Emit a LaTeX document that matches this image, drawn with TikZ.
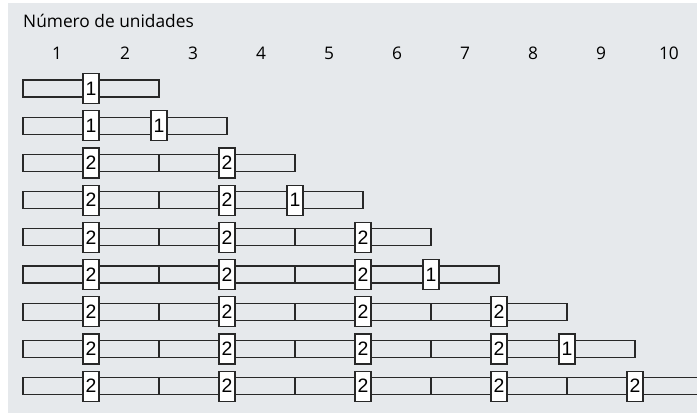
\documentclass[tikz,border=0pt]{standalone}
\usepackage{fontspec}
\setmainfont{Open Sans}
\newfontfamily\boxfont{Liberation Sans}
\definecolor{bggray}{RGB}{230,233,236}
\definecolor{linegray}{RGB}{40,40,40}
\tikzset{
  bar/.style={draw=linegray, line width=1.2bp},
  numbox/.style={draw=linegray, line width=1.2bp, fill=white, inner sep=0pt,
    minimum width=16bp, minimum height=30bp, font=\boxfont\fontsize{19.5}{19.5}\selectfont},
  header/.style={inner sep=0pt, anchor=base, font=\fontsize{17.4}{17.4}\selectfont}
}
\begin{document}
\begin{tikzpicture}[x=68bp, y=-37.2bp]
            \useasboundingbox (-0.338,-1.379) rectangle (9.912,9.804);
            \fill[bggray] (-0.221,-1.298) rectangle (9.912,9.723);
            \clip (-0.338,-1.379) rectangle (9.912,9.804);

            \node[header, anchor=base west] (title) at (0,-0.65) {Número de unidades};

            \node[header] (h1) at (0.5,0.21) {1};
            \node[header] (h2) at (1.5,0.21) {2};
            \node[header] (h3) at (2.5,0.21) {3};
            \node[header] (h4) at (3.5,0.21) {4};
            \node[header] (h5) at (4.5,0.21) {5};
            \node[header] (h6) at (5.5,0.21) {6};
            \node[header] (h7) at (6.5,0.21) {7};
            \node[header] (h8) at (7.5,0.21) {8};
            \node[header] (h9) at (8.5,0.21) {9};
            \node[header] (h10) at (9.5,0.21) {10};

            % row 1
            \draw[bar] (0,0.77) rectangle (2,1.23);
            \node[numbox] (r1a) at (1,1) {1};

            % row 2
            \draw[bar] (0,1.77) rectangle (3,2.23);
            \node[numbox] (r2a) at (1,2) {1};
            \node[numbox] (r2b) at (2,2) {1};

            % row 3
            \draw[bar] (0,2.77) rectangle (4,3.23) (2,2.77) -- (2,3.23);
            \node[numbox] (r3a) at (1,3) {2};
            \node[numbox] (r3b) at (3,3) {2};

            % row 4
            \draw[bar] (0,3.77) rectangle (5,4.23) (2,3.77) -- (2,4.23);
            \node[numbox] (r4a) at (1,4) {2};
            \node[numbox] (r4b) at (3,4) {2};
            \node[numbox] (r4c) at (4,4) {1};

            % row 5
            \draw[bar] (0,4.77) rectangle (6,5.23) (2,4.77) -- (2,5.23) (4,4.77) -- (4,5.23);
            \node[numbox] (r5a) at (1,5) {2};
            \node[numbox] (r5b) at (3,5) {2};
            \node[numbox] (r5c) at (5,5) {2};

            % row 6
            \draw[bar] (0,5.77) rectangle (7,6.23) (2,5.77) -- (2,6.23) (4,5.77) -- (4,6.23);
            \node[numbox] (r6a) at (1,6) {2};
            \node[numbox] (r6b) at (3,6) {2};
            \node[numbox] (r6c) at (5,6) {2};
            \node[numbox] (r6d) at (6,6) {1};

            % row 7
            \draw[bar] (0,6.77) rectangle (8,7.23) (2,6.77) -- (2,7.23) (4,6.77) -- (4,7.23)
              (6,6.77) -- (6,7.23);
            \node[numbox] (r7a) at (1,7) {2};
            \node[numbox] (r7b) at (3,7) {2};
            \node[numbox] (r7c) at (5,7) {2};
            \node[numbox] (r7d) at (7,7) {2};

            % row 8
            \draw[bar] (0,7.77) rectangle (9,8.23) (2,7.77) -- (2,8.23) (4,7.77) -- (4,8.23)
              (6,7.77) -- (6,8.23);
            \node[numbox] (r8a) at (1,8) {2};
            \node[numbox] (r8b) at (3,8) {2};
            \node[numbox] (r8c) at (5,8) {2};
            \node[numbox] (r8d) at (7,8) {2};
            \node[numbox] (r8e) at (8,8) {1};

            % row 9
            \draw[bar] (0,8.77) rectangle (10,9.23) (2,8.77) -- (2,9.23) (4,8.77) -- (4,9.23)
              (6,8.77) -- (6,9.23) (8,8.77) -- (8,9.23);
            \node[numbox] (r9a) at (1,9) {2};
            \node[numbox] (r9b) at (3,9) {2};
            \node[numbox] (r9c) at (5,9) {2};
            \node[numbox] (r9d) at (7,9) {2};
            \node[numbox] (r9e) at (9,9) {2};
        \end{tikzpicture}
\end{document}
